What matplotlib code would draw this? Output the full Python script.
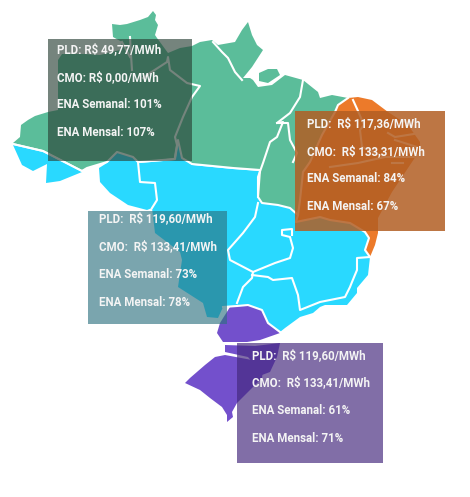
import matplotlib
matplotlib.use("Agg")
import matplotlib.pyplot as plt
from matplotlib.patches import Polygon, Rectangle

plt.rcParams['font.family'] = ['Roboto', 'DejaVu Sans']

# values shown in the boxes
subsystems = ["N", "SE", "NE", "S"]
pld = ["R$ 49,77/MWh", "R$ 119,60/MWh", "R$ 117,36/MWh", "R$ 119,60/MWh"]
cmo = ["R$ 0,00/MWh", "R$ 133,41/MWh", "R$ 133,31/MWh", "R$ 133,41/MWh"]
ena_sem = [101, 73, 84, 61]
ena_men = [107, 78, 67, 71]
sep = [" ", "  ", "  ", "  "]

# outlines, in pixels
north = [(13,143),(20,137),(21,125),(28,120),(35,116),(48,112),(58,110),(58,60),(62,54),(85,54),(100,55),
         (120,50),(122,42),(113,37),(112,24),(120,25),(127,24),(140,20),(148,17),(153,11),(156,15),(155,20),(158,25),(155,35),
         (157,38),(168,53),(180,48),(192,46),(200,42),(212,40),(218,45),(235,42),(242,30),(248,22),(252,35),
         (257,45),(263,50),(252,67),(243,78),(250,78),(253,80),(258,87),(272,85),(285,75),(303,80),
         (318,92),(320,98),(332,95),(348,98),(338,105),(335,112),(322,135),(310,162),(303,172),
         (300,200),(298,215),(290,208),(278,205),(262,203),(258,197),(260,170),(233,168),(192,164),
         (182,158),(178,140),(175,158),(138,162),(133,157),(117,152),(107,162),(87,168),(82,170),(43,150)]
marajo = [(259,73),(268,69),(277,69),(280,75),(268,83),(259,81)]
acre = [(13,145),(22,165),(33,171),(47,164),(46,183),(60,181),(82,172),(43,152)]
southeast = [(140,163),(175,160),(178,140),(182,158),(192,165),(233,169),(260,171),(258,197),(262,203),
             (278,205),(290,208),(298,215),(296,222),(320,217),(330,220),(350,223),(365,232),(369,238),
             (365,250),(370,257),(368,275),(357,288),(357,293),(347,305),(325,305),(320,307),(313,313),
             (300,317),(285,328),(280,332),(268,323),(262,310),(248,305),(237,306),(223,307),(218,318),
             (207,317),(203,303),(178,287),(182,260),(180,252),(155,233),(152,208),(147,210),(128,205),
             (110,193),(100,182),(99,168),(107,163),(117,152),(133,157),(138,162)]
northeast = [(348,98),(338,105),(335,112),(322,135),(310,162),(303,172),(300,200),(298,215),(296,222),
             (320,217),(330,220),(350,223),(365,232),(369,238),(365,250),(370,257),(375,245),(378,233),
             (378,218),(392,192),(408,168),(420,150),(420,142),(408,125),(388,112),(372,100),(358,97)]
parana = [(230,307),(220,323),(217,333),(223,342),(247,342),(260,340),(280,333),(268,323),(262,310),(248,305),(237,306)]
santa_catarina = [(225,345),(255,346),(280,343),(277,357),(270,372),(262,375),(255,365),(248,357),(225,352)]
rio_grande = [(225,355),(252,360),(263,370),(262,378),(253,387),(237,403),(232,412),(233,417),(227,422),(227,415),
              (222,407),(210,398),(200,390),(185,383),(190,378),(205,365),(215,357)]

# borders between subsystems
region_lines = [
    [(13,144),(43,151),(82,171),(87,168),(107,162),(117,152),(133,157),(138,162),(175,159),(178,140),(182,158),(192,164),(233,168),(260,170),(258,197),(262,203),(278,205),(290,208),(298,215)],
    [(348,98),(338,105),(335,112),(322,135),(310,162),(303,172),(300,200),(298,215),(296,222),(320,217),(330,220),(350,223),(365,232),(369,238),(365,250),(370,257)],
    [(223,307),(237,306),(248,305),(262,310),(268,323),(280,332)],
]
# borders between states
north_lines = [
    [(130,37),(131,55),(132,70)],
    [(122,42),(130,57)],
    [(143,78),(150,73),(167,62),(168,57),(170,70),(187,83),(200,86),(192,97),(183,117),(175,137),(177,145),(175,157)],
    [(213,42),(222,52),(228,58),(235,72),(242,80)],
    [(303,80),(300,97),(290,113),(277,123),(288,123),(290,140),(297,153),(293,162)],
    [(277,123),(283,122),(277,137),(270,142),(263,163),(258,177),(258,197)],
]
southeast_lines = [
    [(138,162),(140,182),(155,183),(157,200),(152,208)],
    [(258,203),(255,217),(243,233),(228,250),(230,260),(253,272),(275,263),(290,258),(293,248),(290,237),(282,235),(282,230),(292,229),(292,235)],
    [(253,272),(252,278),(243,287),(237,303)],
    [(252,275),(268,277),(273,280),(292,278),(298,295),(300,310),(320,302),(345,297),(350,287),(352,282),(357,270),(357,258),(370,257)],
]
northeast_lines = [
    [(353,100),(358,111),(364,125),(360,130),(362,147),(385,157),(418,157)],
    [(388,133),(395,137),(420,133)],
    [(395,140),(417,147)],
    [(330,167),(358,163),(385,157)],
    [(392,163),(403,163)],
]

# x0, y0, x1, y1, colour, alpha for each box
boxes = [(48,39,192,161,"#2B4337",0.65),
         (88,211,227,324,"#2C717F",0.63),
         (295,111,445,231,"#B25E23",0.85),
         (237,343,383,463,"#45297E",0.68)]
text_x = [57, 99, 307, 252]
text_y = [(50,78,105,133),(219,247,274,302),(124,152,179,207),(356,383,410,438)]

fig = plt.figure(figsize=(4.7, 4.97), dpi=100)
ax = fig.add_axes([0, 0, 1, 1])
ax.set_xlim(0, 470)
ax.set_ylim(497, 0)
ax.axis("off")

for shape, col in [(north, "#5BBD9A"), (marajo, "#5BBD9A"), (acre, "#29D9FF"), (southeast, "#29D9FF"),
                   (northeast, "#EC7A2A"), (parana, "#7350CC"), (santa_catarina, "#7350CC"), (rio_grande, "#7350CC")]:
    ax.add_patch(Polygon(shape, closed=True, facecolor=col, edgecolor="none", zorder=2))

for line in region_lines + north_lines + southeast_lines + northeast_lines:
    xs = [p[0] for p in line]
    ys = [p[1] for p in line]
    ax.plot(xs, ys, color="white", linewidth=1.5, zorder=3)

for i in range(len(subsystems)):
    x0, y0, x1, y1, col, a = boxes[i]
    ax.add_patch(Rectangle((x0, y0), x1 - x0, y1 - y0, facecolor=col, alpha=a, edgecolor="none", zorder=4))
    lines = ["PLD:" + sep[i] + pld[i],
             "CMO:" + sep[i] + cmo[i],
             "ENA Semanal: " + str(ena_sem[i]) + "%",
             "ENA Mensal: " + str(ena_men[i]) + "%"]
    for j in range(4):
        ax.text(text_x[i], text_y[i][j], lines[j], color="#F4F4F4", fontsize=8.3, fontweight="bold",
                va="center", ha="left", zorder=5)

fig.savefig("out.png", dpi=100)
